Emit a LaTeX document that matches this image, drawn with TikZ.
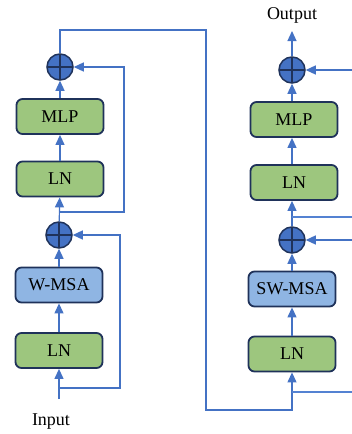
\documentclass[tikz,border=0pt]{standalone}
\usepackage{fontspec}
\setmainfont{Liberation Serif}
\usepackage{tikz}
\usetikzlibrary{arrows.meta, positioning}

\definecolor{boxgreen}{RGB}{157,198,126}
\definecolor{boxblue}{RGB}{143,181,227}
\definecolor{edgenavy}{RGB}{31,50,90}
\definecolor{addblue}{RGB}{68,114,196}
\definecolor{linkblue}{RGB}{84,130,210}

\begin{document}
\begin{tikzpicture}[
  x=1pt, y=-1pt,
  box/.style={draw=edgenavy, line width=1.8pt, rounded corners=6pt, minimum height=35pt, minimum width=87pt, align=center, font=\fontsize{18}{20}\selectfont, inner sep=2pt},
  lnbox/.style={box, fill=boxgreen},
  msabox/.style={box, fill=boxblue},
  adder/.style={circle, draw=edgenavy, fill=addblue, line width=1.5pt, minimum size=26pt, inner sep=0pt,
    path picture={\draw[edgenavy, line width=1.5pt] (path picture bounding box.north) -- (path picture bounding box.south)
      (path picture bounding box.west) -- (path picture bounding box.east);}},
  lbl/.style={font=\fontsize{18}{20}\selectfont, inner sep=0pt},
  link/.style={draw=linkblue, line width=1.2pt},
  arr/.style={link, -{Triangle[length=10pt, width=9pt]}, addblue}
]
\useasboundingbox (0,0) rectangle (352,434);

% first block
\node[lbl] (input) at (51,422) {Input};
\coordinate (instart) at (59,399);
\node[lnbox]  (ln1)  at (59,350.5) {LN};
\node[msabox] (wmsa) at (59,285) {W-MSA};
\node[adder]  (add1) at (59,235) {};
\node[lnbox]  (ln2)  at (60,179) {LN};
\node[lnbox]  (mlp1) at (60,116.5) {MLP};
\node[adder]  (add2) at (60,67) {};

\coordinate (j1) at (59,388);
\coordinate (r1) at (120,235);
\coordinate (j2) at (60,212);
\coordinate (r2) at (124,67);

\draw[arr] (instart) -- (ln1.south);
\draw[arr] (ln1) -- (wmsa);
\draw[arr] (wmsa) -- (add1);
\draw[arr] (add1) -- (ln2);
\draw[arr] (ln2) -- (mlp1);
\draw[arr] (mlp1) -- (add2);
\draw[arr] (j1) -| (r1) -- (add1.east);
\draw[arr] (j2) -| (r2) -- (add2.east);

% second block
\node[lbl] (output) at (292,15) {Output};
\coordinate (outend) at (292,31);
\node[lnbox]  (ln3)   at (292,354) {LN};
\node[msabox] (swmsa) at (292,289) {SW-MSA};
\node[adder]  (add3)  at (292,240) {};
\node[lnbox]  (ln4)   at (294,182.5) {LN};
\node[lnbox]  (mlp2)  at (294,119.5) {MLP};
\node[adder]  (add4)  at (292,70) {};

\coordinate (bend1) at (206,30);
\coordinate (bend2) at (206,410);
\coordinate (j3) at (292,392);
\coordinate (j4) at (292,217);
\coordinate (e1) at (352,392);
\coordinate (e2) at (352,240);
\coordinate (e3) at (352,217);
\coordinate (e4) at (352,70);

\draw[arr] (add2.north) |- (bend1) -- (bend2) -| (ln3.south);
\draw[arr] (ln3) -- (swmsa);
\draw[arr] (swmsa) -- (add3);
\draw[arr] (add3.north) -- (ln4.south -| add3.north);
\draw[arr] (ln4.north -| add4) -- (mlp2.south -| add4);
\draw[arr] (mlp2.north -| add4) -- (add4);
\draw[arr] (add4) -- (outend);
\draw[link] (j3) -- (e1);
\draw[arr] (e2) -- (add3.east);
\draw[link] (j4) -- (e3);
\draw[arr] (e4) -- (add4.east);
\end{tikzpicture}
\end{document}
